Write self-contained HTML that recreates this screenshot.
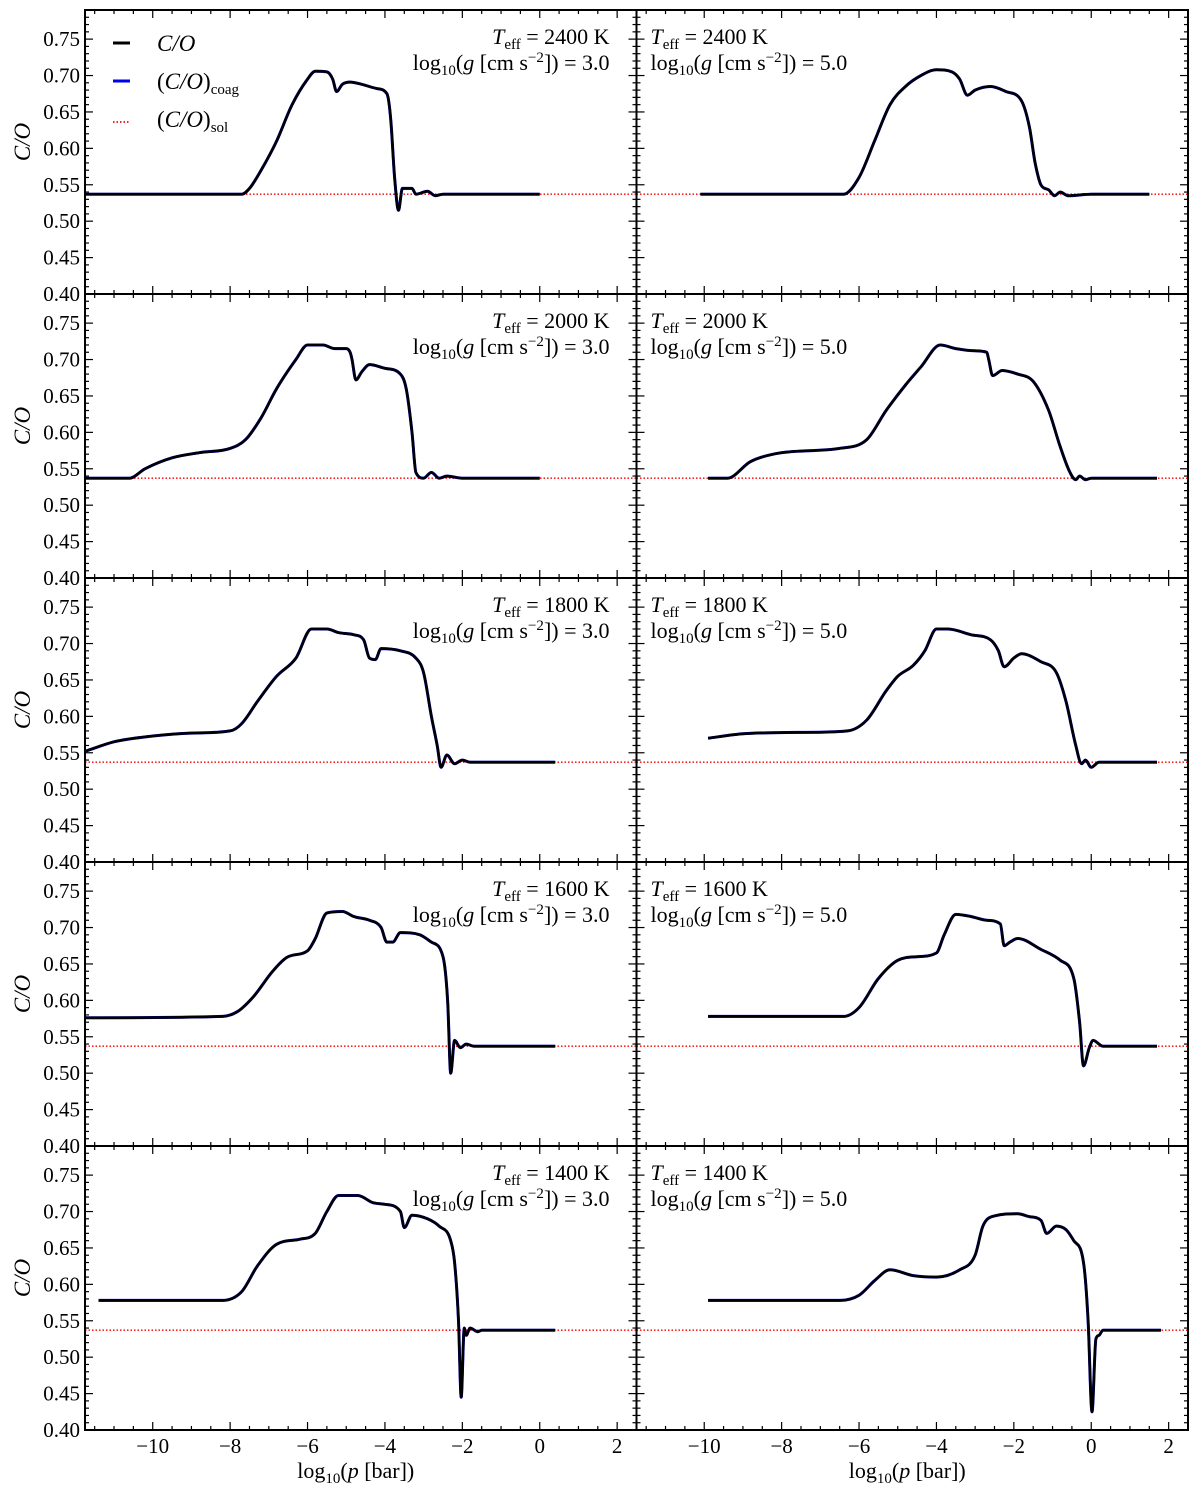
<!DOCTYPE html>
<html><head><meta charset="utf-8"><style>
body{margin:0;background:#fff}
svg text{font-family:"Liberation Serif","DejaVu Serif",serif;fill:#000}
</style></head><body>
<svg id="fig" width="1200" height="1500" viewBox="0 0 1200 1500" xmlns="http://www.w3.org/2000/svg" font-family="Liberation Serif, DejaVu Serif, serif"></svg>
<script>
const teffs=[2400,2000,1800,1600,1400];
const gravs=["3.0","5.0"];
const solarCO=0.537;
const xTicks=[-10,-8,-6,-4,-2,0,2];
const yTicks=[0.40,0.45,0.50,0.55,0.60,0.65,0.70,0.75];
// panel series: [x (log10 p), y (C/O)]
const p2400g3x=[-11.75,-7.7,-7.5,-7.2,-6.8,-6.4,-6.0,-5.8,-5.5,-5.35,-5.25,-5.1,-4.9,-4.6,-4.2,-3.95,-3.85,-3.75,-3.65,-3.55,-3.3,-3.2,-2.9,-2.7,-2.5,0];
const p2400g3y=[.537,.537,.545,.57,.61,.66,.695,.706,.705,.695,.678,.688,.691,.688,.682,.675,.64,.56,.515,.545,.545,.537,.541,.535,.537,.537];
const p2400g5x=[-10.1,-6.4,-6.0,-5.6,-5.2,-4.8,-4.4,-4.0,-3.6,-3.4,-3.2,-3.0,-2.6,-2.2,-1.8,-1.6,-1.45,-1.3,-1.1,-0.95,-0.8,-0.6,0,1.5];
const p2400g5y=[.537,.537,.56,.61,.66,.685,.7,.708,.705,.695,.673,.68,.685,.678,.665,.63,.58,.55,.543,.535,.54,.535,.537,.537];
const p2000g3x=[-11.75,-10.6,-10.2,-9.5,-8.8,-8,-7.6,-7.2,-6.8,-6.3,-6.0,-5.6,-5.3,-5.0,-4.9,-4.85,-4.75,-4.6,-4.4,-4.0,-3.6,-3.45,-3.3,-3.2,-3.0,-2.8,-2.6,-2.4,-2.0,0];
const p2000g3y=[.537,.537,.55,.565,.572,.578,.59,.62,.66,.70,.72,.72,.715,.715,.71,.70,.672,.683,.693,.688,.68,.66,.60,.545,.537,.545,.537,.540,.537,.537];
const p2000g5x=[-9.9,-9.4,-8.8,-8,-6.5,-5.8,-5.3,-4.8,-4.4,-3.9,-3.5,-3.0,-2.7,-2.65,-2.55,-2.3,-1.9,-1.5,-1.1,-0.8,-0.55,-0.4,-0.3,-0.15,0,1.7];
const p2000g5y=[.537,.537,.56,.572,.578,.59,.63,.665,.69,.72,.715,.712,.71,.70,.678,.685,.68,.67,.63,.58,.545,.535,.54,.535,.537,.537];
const p1800g3x=[-11.75,-11,-10,-9,-8,-7.7,-7.3,-6.8,-6.3,-5.9,-5.5,-5.2,-4.8,-4.55,-4.4,-4.25,-4.1,-3.6,-3.2,-3.0,-2.8,-2.65,-2.55,-2.4,-2.2,-2.0,-1.8,0.4];
const p1800g3y=[.552,.565,.573,.577,.58,.59,.62,.655,.68,.72,.72,.715,.712,.705,.68,.678,.693,.69,.68,.66,.60,.56,.53,.547,.535,.54,.537,.537];
const p1800g5x=[-9.9,-9,-7.5,-6.3,-5.8,-5.3,-5,-4.6,-4.3,-4.0,-3.7,-3.1,-2.6,-2.4,-2.25,-2.0,-1.8,-1.3,-0.9,-0.65,-0.4,-0.25,-0.15,0,0.2,1.7];
const p1800g5y=[.57,.576,.578,.58,.595,.635,.655,.67,.69,.72,.72,.712,.705,.69,.668,.68,.686,.675,.66,.62,.56,.535,.54,.53,.537,.537];
const p1600g3x=[-11.75,-8.2,-7.8,-7.4,-6.9,-6.5,-6.0,-5.8,-5.5,-5.1,-4.8,-4.4,-4.1,-3.95,-3.8,-3.6,-3.1,-2.8,-2.5,-2.38,-2.3,-2.2,-2.05,-1.9,-1.7,0.4];
const p1600g3y=[.576,.578,.585,.605,.64,.66,.668,.685,.72,.722,.715,.71,.70,.68,.68,.693,.69,.68,.66,.60,.50,.545,.535,.54,.537,.537];
const p1600g5x=[-9.9,-6.4,-6.0,-5.5,-5.0,-4.5,-4.0,-3.8,-3.5,-3.1,-2.7,-2.35,-2.25,-2.1,-1.9,-1.3,-0.8,-0.45,-0.3,-0.2,-0.05,0.05,0.3,1.7];
const p1600g5y=[.578,.578,.59,.63,.655,.66,.665,.69,.718,.715,.71,.705,.675,.68,.685,.67,.655,.63,.57,.51,.535,.545,.537,.537];
const p1400g3x=[-11.4,-8.2,-7.7,-7.3,-6.8,-6.2,-5.8,-5.5,-5.2,-4.7,-4.3,-4.0,-3.6,-3.5,-3.3,-2.9,-2.6,-2.3,-2.2,-2.1,-2.03,-1.95,-1.9,-1.8,-1.6,-1.5,0.4];
const p1400g3y=[.578,.578,.59,.625,.655,.662,.67,.70,.722,.722,.712,.71,.70,.678,.695,.69,.68,.66,.63,.55,.445,.54,.53,.54,.535,.537,.537];
const p1400g5x=[-9.9,-6.5,-6.0,-5.6,-5.2,-4.6,-4.0,-3.4,-3.0,-2.8,-2.5,-1.9,-1.6,-1.3,-1.15,-0.9,-0.65,-0.45,-0.2,-0.08,0.02,0.12,0.2,0.3,1.8];
const p1400g5y=[.578,.578,.585,.605,.62,.612,.61,.62,.64,.68,.694,.697,.693,.688,.67,.68,.675,.66,.63,.55,.425,.525,.53,.537,.537];
const series=[[p2400g3x,p2400g3y],[p2400g5x,p2400g5y],[p2000g3x,p2000g3y],[p2000g5x,p2000g5y],[p1800g3x,p1800g3y],[p1800g5x,p1800g5y],[p1600g3x,p1600g3y],[p1600g5x,p1600g5y],[p1400g3x,p1400g3y],[p1400g5x,p1400g5y]];

const NS="http://www.w3.org/2000/svg";
const svg=document.getElementById('fig');
const XMIN=-11.75,XMAX=2.5,YMIN=0.40,YMAX=0.79;
const colL=[85,636.5],PW=551.5,rowT=10,PH=284;
function mk(tag,attrs,parent){const e=document.createElementNS(NS,tag);for(const k in attrs)e.setAttribute(k,attrs[k]);(parent||svg).appendChild(e);return e;}
// monotone cubic path through pixel points
function monoPath(X,Y){
  const n=X.length;const d=[],m=new Array(n);
  for(let i=0;i<n-1;i++)d.push((Y[i+1]-Y[i])/(X[i+1]-X[i]));
  m[0]=d[0];m[n-1]=d[n-2];
  for(let i=1;i<n-1;i++){m[i]=(d[i-1]*d[i]<=0)?0:(d[i-1]+d[i])/2;}
  for(let i=0;i<n-1;i++){if(d[i]===0){m[i]=0;m[i+1]=0;continue;}
    const a=m[i]/d[i],b=m[i+1]/d[i],s=a*a+b*b;if(s>9){const t=3/Math.sqrt(s);m[i]=t*a*d[i];m[i+1]=t*b*d[i];}}
  let p='M'+X[0].toFixed(1)+','+Y[0].toFixed(1);
  for(let i=0;i<n-1;i++){const h=(X[i+1]-X[i])/3;
    p+=' C'+(X[i]+h).toFixed(1)+','+(Y[i]+m[i]*h).toFixed(1)+' '+(X[i+1]-h).toFixed(1)+','+(Y[i+1]-m[i+1]*h).toFixed(1)+' '+X[i+1].toFixed(1)+','+Y[i+1].toFixed(1);}
  return p;
}
const FF='Liberation Serif, DejaVu Serif, serif';
for(let r=0;r<5;r++){for(let c=0;c<2;c++){
  const x0=colL[c],y0=rowT+r*PH;
  const sx=v=>x0+(v-XMIN)/(XMAX-XMIN)*PW;
  const sy=v=>y0+PH-(v-YMIN)/(YMAX-YMIN)*PH;
  const g=mk('g',{});
  
  
  for(let v=-11.5;v<=2.5;v+=0.5){
    const major=Math.abs(v%2)<1e-9;const L=major?8:4;const X=sx(v);
    mk('line',{x1:X,x2:X,y1:y0+PH,y2:y0+PH-L,stroke:'#000','stroke-width':1.2},g);
    mk('line',{x1:X,x2:X,y1:y0,y2:y0+L,stroke:'#000','stroke-width':1.2},g);
  }
  for(let i=40;i<=79;i++){
    const v=i/100;const major=i%5===0;const L=major?8:4;const Y=sy(v);
    mk('line',{x1:x0,x2:x0+L,y1:Y,y2:Y,stroke:'#000','stroke-width':1.2},g);
    mk('line',{x1:x0+PW,x2:x0+PW-L,y1:Y,y2:Y,stroke:'#000','stroke-width':1.2},g);
  }
  if(c===0){
    yTicks.forEach(v=>{const t=mk('text',{x:x0-5,y:sy(v)+7,'text-anchor':'end','font-size':21,'font-family':FF},g);t.textContent=v.toFixed(2);
      });
    const yl=mk('text',{x:0,y:0,'font-size':23,'font-style':'italic','font-family':FF,'text-anchor':'middle',transform:`translate(30,${y0+PH/2-10}) rotate(-90)`},g);
    yl.textContent='C/O';
  }
  if(r===4){
    xTicks.forEach(v=>{const t=mk('text',{x:sx(v),y:y0+PH+23,'text-anchor':'middle','font-size':21,'font-family':FF},g);t.textContent=(v<0?'\u2212':'')+Math.abs(v);
      });
    const xl=mk('text',{x:x0+PW/2-5,y:1478,'text-anchor':'middle','font-size':22,'font-family':FF},g);
    xl.innerHTML='log<tspan font-size="15" dy="5">10</tspan><tspan dy="-5">(</tspan><tspan font-style="italic">p</tspan> [bar])';
    
  }
  const sl=mk('line',{x1:x0,x2:x0+PW,y1:sy(solarCO),y2:sy(solarCO),stroke:'#ff2020','stroke-width':1.6,'stroke-dasharray':'1.5,2'},g);
  
  const [xs,ys]=series[r*2+c];
  const d=monoPath(xs.map(sx),ys.map(sy));
  const bl=mk('path',{d:d,fill:'none',stroke:'#0000ee','stroke-width':3,'stroke-linejoin':'round'},g);
  
  const kl=mk('path',{d:d,fill:'none',stroke:'#000','stroke-width':2.6,'stroke-linejoin':'round'},g);
  
  mk('rect',{x:x0,y:y0,width:PW,height:PH,fill:'none',stroke:'#000','stroke-width':2},g);
  const ax=c===0?x0+PW-27:x0+14, anc=c===0?'end':'start';
  const t1=mk('text',{x:ax,y:y0+34,'text-anchor':anc,'font-size':22,'font-family':FF},g);
  t1.innerHTML='<tspan font-style="italic">T</tspan><tspan font-size="15" dy="5">eff</tspan><tspan dy="-5"> = '+teffs[r]+' K</tspan>';
  
  const t2=mk('text',{x:ax,y:y0+60,'text-anchor':anc,'font-size':22,'font-family':FF},g);
  t2.innerHTML='log<tspan font-size="15" dy="5">10</tspan><tspan dy="-5">(</tspan><tspan font-style="italic">g</tspan> [cm s<tspan font-size="15" dy="-8">\u22122</tspan><tspan dy="8">]) = '+gravs[c]+'</tspan>';
  
}}
const lg=mk('g',{});


mk('line',{x1:113,x2:130,y1:43,y2:43,stroke:'#000','stroke-width':3},lg);
mk('line',{x1:113,x2:130,y1:81,y2:81,stroke:'#0000ee','stroke-width':3},lg);
mk('line',{x1:113,x2:130,y1:122,y2:122,stroke:'#ff2020','stroke-width':2,'stroke-dasharray':'1.5,2'},lg);
const l1=mk('text',{x:157,y:51,'font-size':23,'font-family':FF},lg);l1.innerHTML='<tspan font-style="italic">C/O</tspan>';

const l2=mk('text',{x:157,y:89,'font-size':23,'font-family':FF},lg);l2.innerHTML='(<tspan font-style="italic">C/O</tspan>)<tspan font-size="15" dy="5">coag</tspan>';

const l3=mk('text',{x:157,y:127,'font-size':23,'font-family':FF},lg);l3.innerHTML='(<tspan font-style="italic">C/O</tspan>)<tspan font-size="15" dy="5">sol</tspan>';

</script>
</body></html>
